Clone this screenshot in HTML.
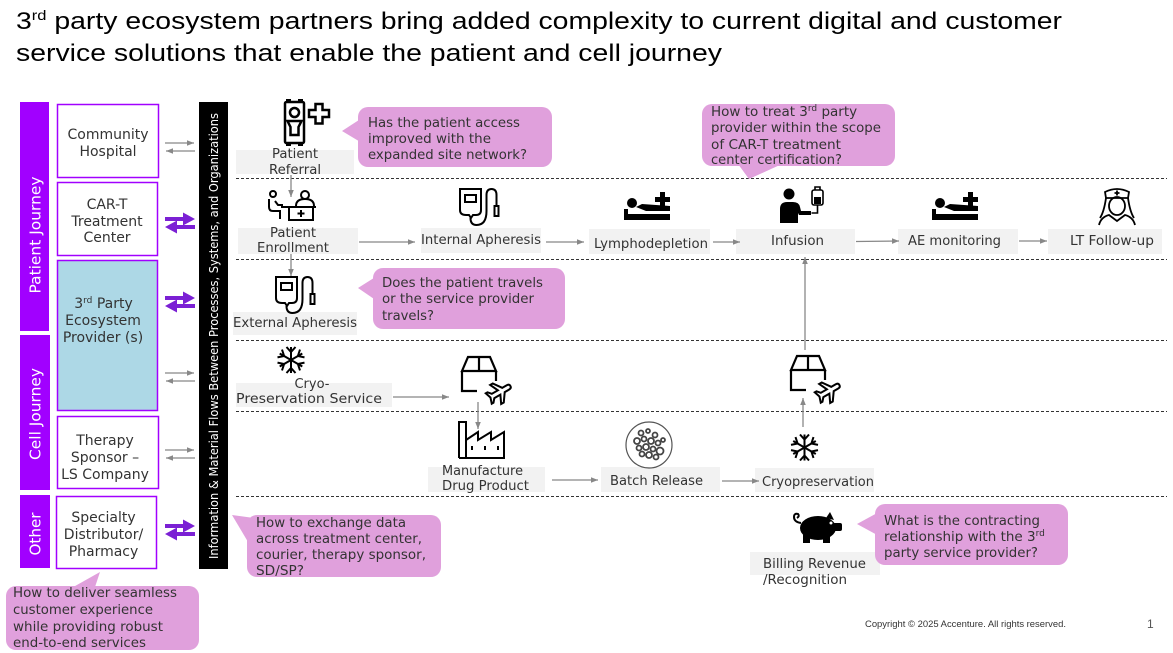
<!DOCTYPE html>
<html>
<head>
<meta charset="utf-8">
<style>
html,body{margin:0;padding:0;background:#fff;}
body{width:1173px;height:653px;overflow:hidden;}
svg{display:block;}
.v{font-family:"DejaVu Sans","Liberation Sans",sans-serif;}
.lbl{font-family:"DejaVu Sans","Liberation Sans",sans-serif;font-size:13px;fill:#333;}
.bub{font-family:"DejaVu Sans","Liberation Sans",sans-serif;font-size:13.5px;fill:#333;}
.lft{font-family:"DejaVu Sans","Liberation Sans",sans-serif;font-size:14px;fill:#333;}
</style>
</head>
<body>
<svg width="1173" height="653" viewBox="0 0 1173 653" xmlns="http://www.w3.org/2000/svg">
<defs>
<marker id="ag" viewBox="0 0 10 10" refX="10" refY="5" markerWidth="7" markerHeight="7" markerUnits="userSpaceOnUse" orient="auto">
<path d="M0,1 L10,5 L0,9 z" fill="#888"/>
</marker>
</defs>

<!-- Title -->
<text x="16" y="29" font-family="Liberation Sans, sans-serif" font-size="24" fill="#000" textLength="1046" lengthAdjust="spacingAndGlyphs">3<tspan dy="-9" font-size="14">rd</tspan><tspan dy="9"> party ecosystem partners bring added complexity to current digital and customer</tspan></text>
<text x="16" y="61" font-family="Liberation Sans, sans-serif" font-size="24" fill="#000" textLength="706" lengthAdjust="spacingAndGlyphs">service solutions that enable the patient and cell journey</text>

<!-- Purple bars -->
<rect x="20" y="102" width="29" height="229" fill="#a100ff"/>
<rect x="20" y="335" width="30" height="155" fill="#a100ff"/>
<rect x="20" y="495" width="30" height="73" fill="#a100ff"/>
<text class="v" font-size="15" fill="#fff" text-anchor="middle" transform="translate(40.5,235) rotate(-90)" textLength="117" lengthAdjust="spacingAndGlyphs">Patient Journey</text>
<text class="v" font-size="15" fill="#fff" text-anchor="middle" transform="translate(40.5,414) rotate(-90)" textLength="92" lengthAdjust="spacingAndGlyphs">Cell Journey</text>
<text class="v" font-size="15" fill="#fff" text-anchor="middle" transform="translate(40.5,534) rotate(-90)" textLength="43" lengthAdjust="spacingAndGlyphs">Other</text>

<!-- Left boxes -->
<g stroke="#a100ff" stroke-width="1.5">
<rect x="57.5" y="104.5" width="101" height="73" fill="#fff"/>
<rect x="57.5" y="182.5" width="100" height="73" fill="#fff"/>
<rect x="57.5" y="260.5" width="100" height="150" fill="#add8e6"/>
<rect x="57.5" y="416.5" width="101" height="72" fill="#fff"/>
<rect x="56.5" y="496.5" width="100" height="72" fill="#fff"/>
</g>
<g class="lft" text-anchor="middle">
<text x="108" y="139">Community</text>
<text x="108" y="156">Hospital</text>
<text x="107" y="209">CAR-T</text>
<text x="107" y="226">Treatment</text>
<text x="107" y="242">Center</text>
<text x="103.5" y="308">3<tspan dy="-5" font-size="9">rd</tspan><tspan dy="5"> Party</tspan></text>
<text x="103" y="325">Ecosystem</text>
<text x="103" y="342">Provider (s)</text>
<text x="105" y="445">Therapy</text>
<text x="105" y="462">Sponsor –</text>
<text x="105" y="479">LS Company</text>
<text x="103.5" y="522">Specialty</text>
<text x="103.5" y="539">Distributor/</text>
<text x="103.5" y="556">Pharmacy</text>
</g>

<!-- Left double arrows -->
<g stroke="#888" stroke-width="1.3" fill="none">
<line x1="165" y1="143" x2="194" y2="143" marker-end="url(#ag)"/>
<line x1="195" y1="151" x2="166" y2="151" marker-end="url(#ag)"/>
<line x1="165" y1="373" x2="194" y2="373" marker-end="url(#ag)"/>
<line x1="195" y1="381" x2="166" y2="381" marker-end="url(#ag)"/>
<line x1="165" y1="450" x2="194" y2="450" marker-end="url(#ag)"/>
<line x1="195" y1="458" x2="166" y2="458" marker-end="url(#ag)"/>
</g>
<g fill="#7b20d4">
<path d="M165,217 H183 V212.5 L195,219 L183,225.5 V221 H165 Z"/>
<path d="M195,225 H177 V220.5 L165,227 L177,233.5 V229 H195 Z"/>
<path d="M165,296 H183 V291.5 L195,298 L183,304.5 V300 H165 Z"/>
<path d="M195,304 H177 V299.5 L165,306 L177,312.5 V308 H195 Z"/>
<path d="M165,524 H183 V519.5 L195,526 L183,532.5 V528 H165 Z"/>
<path d="M195,532 H177 V527.5 L165,534 L177,540.5 V536 H195 Z"/>
</g>

<!-- Black bar -->
<rect x="199" y="102" width="29" height="467" fill="#000"/>
<text class="v" font-size="12" fill="#fff" text-anchor="middle" transform="translate(218,336) rotate(-90)" textLength="446" lengthAdjust="spacingAndGlyphs">Information &amp; Material Flows Between Processes, Systems, and Organizations</text>

<!-- Dashed lines -->
<g stroke="#333" stroke-width="1" stroke-dasharray="3,2">
<line x1="236" y1="178.5" x2="1167" y2="178.5"/>
<line x1="236" y1="259.5" x2="1167" y2="259.5"/>
<line x1="236" y1="340.5" x2="1167" y2="340.5"/>
<line x1="236" y1="411.5" x2="1167" y2="411.5"/>
<line x1="236" y1="496.5" x2="1167" y2="496.5"/>
</g>

<!-- Label boxes -->
<g fill="#f2f2f2">
<rect x="236" y="150" width="118" height="24"/>
<rect x="238" y="228" width="120" height="26"/>
<rect x="421" y="228" width="120" height="25"/>
<rect x="233" y="312" width="124" height="23"/>
<rect x="589" y="229" width="121" height="25"/>
<rect x="736" y="229" width="119" height="25"/>
<rect x="898" y="229" width="120" height="25"/>
<rect x="1048" y="229" width="114" height="25"/>
<rect x="236" y="383" width="156" height="24"/>
<rect x="428" y="467" width="117" height="25"/>
<rect x="601" y="467" width="119" height="25"/>
<rect x="755" y="468" width="119" height="24"/>
<rect x="750" y="552" width="130" height="23"/>
</g>
<g class="lbl">
<text x="272" y="158" textLength="46" lengthAdjust="spacingAndGlyphs">Patient</text>
<text x="269" y="174" textLength="52" lengthAdjust="spacingAndGlyphs">Referral</text>
<text x="270" y="237" textLength="46" lengthAdjust="spacingAndGlyphs">Patient</text>
<text x="257" y="252" textLength="72" lengthAdjust="spacingAndGlyphs">Enrollment</text>
<text x="421" y="244" textLength="120" lengthAdjust="spacingAndGlyphs">Internal Apheresis</text>
<text x="233" y="327" textLength="124" lengthAdjust="spacingAndGlyphs">External Apheresis</text>
<text x="594" y="248" textLength="114" lengthAdjust="spacingAndGlyphs">Lymphodepletion</text>
<text x="771" y="245" textLength="53" lengthAdjust="spacingAndGlyphs">Infusion</text>
<text x="908" y="245" textLength="93" lengthAdjust="spacingAndGlyphs">AE monitoring</text>
<text x="1070" y="245" textLength="84" lengthAdjust="spacingAndGlyphs">LT Follow-up</text>
<text x="312" y="388" text-anchor="middle">Cryo-</text>
<text x="236" y="403" textLength="146" lengthAdjust="spacingAndGlyphs">Preservation Service</text>
<text x="442" y="475" textLength="81" lengthAdjust="spacingAndGlyphs">Manufacture</text>
<text x="442" y="490" textLength="87" lengthAdjust="spacingAndGlyphs">Drug Product</text>
<text x="610" y="485" textLength="93" lengthAdjust="spacingAndGlyphs">Batch Release</text>
<text x="762" y="486" textLength="112" lengthAdjust="spacingAndGlyphs">Cryopreservation</text>
<text x="763" y="568" textLength="103" lengthAdjust="spacingAndGlyphs">Billing Revenue</text>
<text x="763" y="584" textLength="84" lengthAdjust="spacingAndGlyphs">/Recognition</text>
</g>

<!-- Flow arrows -->
<g stroke="#888" stroke-width="1.3" fill="none">
<line x1="291" y1="175" x2="291" y2="197" marker-end="url(#ag)"/>
<line x1="359" y1="242" x2="415" y2="242" marker-end="url(#ag)"/>
<line x1="546" y1="242" x2="584" y2="242" marker-end="url(#ag)"/>
<line x1="713" y1="242" x2="740" y2="242" marker-end="url(#ag)"/>
<line x1="856" y1="241.5" x2="899" y2="241" marker-end="url(#ag)"/>
<line x1="1019" y1="241" x2="1047" y2="241" marker-end="url(#ag)"/>
<line x1="291" y1="254" x2="291" y2="276" marker-end="url(#ag)"/>
<line x1="393" y1="397" x2="449" y2="397" marker-end="url(#ag)"/>
<line x1="478" y1="402" x2="478" y2="429" marker-end="url(#ag)"/>
<line x1="552" y1="480" x2="598" y2="480" marker-end="url(#ag)"/>
<line x1="722" y1="481" x2="759" y2="481" marker-end="url(#ag)"/>
<line x1="803" y1="427" x2="803" y2="398" marker-end="url(#ag)"/>
<line x1="805" y1="350" x2="805" y2="257" marker-end="url(#ag)"/>
</g>

<!-- Bubbles -->
<g fill="#e0a0dc">
<rect x="358" y="107" width="194" height="60" rx="10"/>
<polygon points="342,131 362,118 362,143"/>
<rect x="373" y="268" width="192" height="61" rx="10"/>
<polygon points="358,288 377,276 377,301"/>
<rect x="702" y="104" width="193" height="62" rx="10"/>
<polygon points="738,164 782,164 749,179"/>
<rect x="247" y="515" width="194" height="62" rx="10"/>
<polygon points="232,515 262,519 251,547"/>
<rect x="875" y="504" width="193" height="61" rx="10"/>
<polygon points="857,524 879,512 879,536"/>
<rect x="6" y="586" width="193" height="64" rx="10"/>
<polygon points="100,572 68,590 94,590"/>
</g>
<g class="bub">
<text x="368" y="127" textLength="152" lengthAdjust="spacingAndGlyphs">Has the patient access</text>
<text x="368" y="143" textLength="123" lengthAdjust="spacingAndGlyphs">improved with the</text>
<text x="368" y="159" textLength="159" lengthAdjust="spacingAndGlyphs">expanded site network?</text>

<text x="382" y="287" textLength="161" lengthAdjust="spacingAndGlyphs">Does the patient travels</text>
<text x="382" y="303" textLength="152" lengthAdjust="spacingAndGlyphs">or the service provider</text>
<text x="382" y="320" textLength="52" lengthAdjust="spacingAndGlyphs">travels?</text>

<text x="711" y="116">How to treat 3<tspan dy="-5" font-size="9">rd</tspan><tspan dy="5"> party</tspan></text>
<text x="711" y="132" textLength="170" lengthAdjust="spacingAndGlyphs">provider within the scope</text>
<text x="711" y="149" textLength="130" lengthAdjust="spacingAndGlyphs">of CAR-T treatment</text>
<text x="711" y="164" textLength="131" lengthAdjust="spacingAndGlyphs">center certification?</text>

<text x="256" y="527" textLength="150" lengthAdjust="spacingAndGlyphs">How to exchange data</text>
<text x="256" y="543" textLength="166" lengthAdjust="spacingAndGlyphs">across treatment center,</text>
<text x="256" y="559" textLength="170" lengthAdjust="spacingAndGlyphs">courier, therapy sponsor,</text>
<text x="256" y="575" textLength="48" lengthAdjust="spacingAndGlyphs">SD/SP?</text>

<text x="884" y="525" textLength="156" lengthAdjust="spacingAndGlyphs">What is the contracting</text>
<text x="884" y="541">relationship with the 3<tspan dy="-5" font-size="9">rd</tspan></text>
<text x="884" y="557" textLength="154" lengthAdjust="spacingAndGlyphs">party service provider?</text>

<text x="13" y="597" textLength="164" lengthAdjust="spacingAndGlyphs">How to deliver seamless</text>
<text x="13" y="614" textLength="140" lengthAdjust="spacingAndGlyphs">customer experience</text>
<text x="13" y="631" textLength="150" lengthAdjust="spacingAndGlyphs">while providing robust</text>
<text x="13" y="647" textLength="133" lengthAdjust="spacingAndGlyphs">end-to-end services</text>
</g>

<!-- Icons -->
<!-- Referral -->
<g stroke="#000" stroke-width="2.5" fill="none">
<rect x="285" y="102" width="19" height="41" rx="1.5"/>
<circle cx="294.5" cy="112.5" r="4.5"/>
<path d="M287.5,121 h14 l-3,6 v8 h-8 v-8 z"/>
<path d="M315.5,104 h7 v6 h6.5 v7 h-6.5 v6.5 h-7 v-6.5 h-6.5 v-7 h6.5 z"/>
</g>
<g fill="#000">
<rect x="286" y="99" width="5" height="3"/><rect x="298" y="99" width="5" height="3"/>
<rect x="286" y="143" width="5" height="3"/><rect x="298" y="143" width="5" height="3"/>
</g>

<!-- Enrollment -->
<g stroke="#000" stroke-width="2" fill="none">
<circle cx="273" cy="194" r="3"/>
<path d="M269,199 v8 q0,4 4,4 h7 v8"/>
<path d="M275,201 l3,4 h5"/>
<circle cx="305" cy="195" r="4"/>
<path d="M296,206 q0,-7 9,-7 q9,0 9,7"/>
<path d="M281,207 h35"/>
<rect x="289" y="207" width="24" height="13"/>
<path d="M301,210 v7 M297.5,213.5 h7"/>
</g>

<!-- IV bags -->
<g stroke="#000" stroke-width="2" fill="none">
<path d="M460,189 h21 v21 q0,5 -5,5 h-3 l-2,3 -2,-3 h-3 q-6,0 -6,-5 z"/>
<rect x="465" y="195" width="11" height="7"/>
<path d="M470.5,218 q0,7 6,7 q10,0 10,-14 v-16 q0,-6 5,-6 q5,0 5,6 v12"/>
<rect x="494.5" y="206" width="4" height="10"/>
</g>
<g transform="translate(-184,88)" stroke="#000" stroke-width="2" fill="none">
<path d="M460,189 h21 v21 q0,5 -5,5 h-3 l-2,3 -2,-3 h-3 q-6,0 -6,-5 z"/>
<rect x="465" y="195" width="11" height="7"/>
<path d="M470.5,218 q0,7 6,7 q10,0 10,-14 v-16 q0,-6 5,-6 q5,0 5,6 v12"/>
<rect x="494.5" y="206" width="4" height="10"/>
</g>

<!-- Beds -->
<g fill="#000">
<rect x="660" y="192" width="5" height="15"/>
<rect x="655" y="197" width="15" height="5"/>
<circle cx="632" cy="203" r="5"/>
<polygon points="624,209 628,209 628,214 670,214 670,220 624,220"/>
<polygon points="636,207 642,204 670,206 670,211 646,211"/>
</g>
<g fill="#000" transform="translate(308,0)">
<rect x="660" y="192" width="5" height="15"/>
<rect x="655" y="197" width="15" height="5"/>
<circle cx="632" cy="203" r="5"/>
<polygon points="624,209 628,209 628,214 670,214 670,220 624,220"/>
<polygon points="636,207 642,204 670,206 670,211 646,211"/>
</g>

<!-- Infusion -->
<circle cx="789" cy="194" r="5.5" fill="#000"/>
<path d="M780,223 v-14 q0,-7 7,-7 h6 q6,0 7,5 l1,4 h10 v4 h-12 l-1,-2 v10 z" fill="#000"/>
<g stroke="#000" stroke-width="1.6" fill="none">
<rect x="812" y="190" width="11" height="15" rx="2"/>
<path d="M815,190 v-3 h5 v3"/>
<path d="M817.5,205 v8 h-6"/>
</g>
<rect x="814" y="197" width="7" height="7" fill="#000"/>

<!-- Nurse -->
<g stroke="#000" stroke-width="1.8" fill="none">
<path d="M1106,198 l-1,-6 q12,-6 24,0 l-1,6 z"/>
<path d="M1117,190.5 v5 M1114.5,193 h5"/>
<ellipse cx="1117" cy="206" rx="8" ry="9"/>
<path d="M1106,198 q-2,14 -6,20 M1128,198 q2,14 6,20"/>
<path d="M1099,225 q2,-8 10,-10 l8,6 8,-6 q8,2 10,10"/>
</g>

<!-- Snowflakes -->
<g stroke="#000" stroke-width="2" fill="none">
<path d="M291,347 v26 M279.7,353.5 l22.6,13 M279.7,366.5 l22.6,-13"/>
<path d="M286.5,347 L291,352 L295.5,347 M286.5,373 L291,368 L295.5,373 M300,349.6 L297.9,356 L304.5,357.4 M304.5,362.6 L297.9,364 L300,370.4 M282,349.6 L284.1,356 L277.5,357.4 M277.5,362.6 L284.1,364 L282,370.4"/>
</g>
<g stroke="#000" stroke-width="2" fill="none" transform="translate(513.5,87.5)">
<path d="M291,347 v26 M279.7,353.5 l22.6,13 M279.7,366.5 l22.6,-13"/>
<path d="M286.5,347 L291,352 L295.5,347 M286.5,373 L291,368 L295.5,373 M300,349.6 L297.9,356 L304.5,357.4 M304.5,362.6 L297.9,364 L300,370.4 M282,349.6 L284.1,356 L277.5,357.4 M277.5,362.6 L284.1,364 L282,370.4"/>
</g>

<!-- Box-plane icons -->
<g stroke="#000" stroke-width="2.2" fill="none">
<path d="M462,371 L468,357 L490,357 L496,371 Z"/>
<path d="M479,357 V371"/>
<path d="M462,371 V391 H477"/>
<path d="M496,371 V381"/>
</g>
<g transform="translate(500,392) rotate(-30)">
<path d="M12,0 Q12,-2.5 9,-2.5 L4,-2.5 L-2,-11 L-5,-11 L-1,-2.5 L-8,-2.5 L-11,-6 L-13,-6 L-11,0 L-13,6 L-11,6 L-8,2.5 L-1,2.5 L-5,11 L-2,11 L4,2.5 L9,2.5 Q12,2.5 12,0 Z" fill="#fff" stroke="#000" stroke-width="2"/>
</g>
<g transform="translate(329,-1)">
<g stroke="#000" stroke-width="2.2" fill="none">
<path d="M462,371 L468,357 L490,357 L496,371 Z"/>
<path d="M479,357 V371"/>
<path d="M462,371 V391 H477"/>
<path d="M496,371 V381"/>
</g>
<g transform="translate(500,392) rotate(-30)">
<path d="M12,0 Q12,-2.5 9,-2.5 L4,-2.5 L-2,-11 L-5,-11 L-1,-2.5 L-8,-2.5 L-11,-6 L-13,-6 L-11,0 L-13,6 L-11,6 L-8,2.5 L-1,2.5 L-5,11 L-2,11 L4,2.5 L9,2.5 Q12,2.5 12,0 Z" fill="#fff" stroke="#000" stroke-width="2"/>
</g>
</g>

<!-- Factory -->
<g stroke="#000" stroke-width="2" fill="none">
<path d="M459,458 V422 H466 V458 M459,458 H504 V432 L491,440 V432 L478,440 V432 L466,440"/>
</g>
<g fill="#000">
<rect x="471" y="446" width="2" height="4"/>
<rect x="484" y="446" width="2" height="4"/>
<rect x="497" y="446" width="2" height="4"/>
</g>

<!-- Batch -->
<circle cx="649" cy="445" r="23" stroke="#555" stroke-width="1.2" fill="none"/>
<g stroke="#444" stroke-width="1.8" fill="none">
<circle cx="641" cy="433" r="2.5"/><circle cx="648" cy="431" r="2"/><circle cx="655" cy="435" r="2.5"/>
<circle cx="637" cy="441" r="3"/><circle cx="644" cy="439" r="2.5"/><circle cx="651" cy="441" r="3"/>
<circle cx="658" cy="443" r="2.5"/><circle cx="639" cy="448" r="2.5"/><circle cx="646" cy="447" r="3"/>
<circle cx="653" cy="449" r="2.5"/><circle cx="660" cy="451" r="3.5"/><circle cx="642" cy="454" r="2.5"/>
<circle cx="649" cy="455" r="3"/><circle cx="656" cy="457" r="2.5"/><circle cx="663" cy="440" r="2"/>
</g>

<!-- Piggy -->
<g fill="#000">
<ellipse cx="818" cy="528" rx="18" ry="12"/>
<path d="M826,518 l4,-6 l4,8 z"/>
<rect x="833" y="523" width="9" height="8" rx="2"/>
<rect x="803" y="534" width="7" height="9"/>
<rect x="823" y="534" width="7" height="9"/>
</g>
<circle cx="831" cy="523" r="1.5" fill="#fff"/>
<path d="M801,523 q-7,-1 -7,-6 q0,-4 4,-3 q2,2 -1,4" stroke="#000" stroke-width="2" fill="none"/>

<!-- Footer -->
<text x="865" y="627" font-family="Liberation Sans, sans-serif" font-size="9" fill="#333" textLength="201" lengthAdjust="spacingAndGlyphs">Copyright © 2025 Accenture. All rights reserved.</text>
<text x="1147" y="628" font-family="Liberation Sans, sans-serif" font-size="12" fill="#555">1</text>
</svg>
</body>
</html>
